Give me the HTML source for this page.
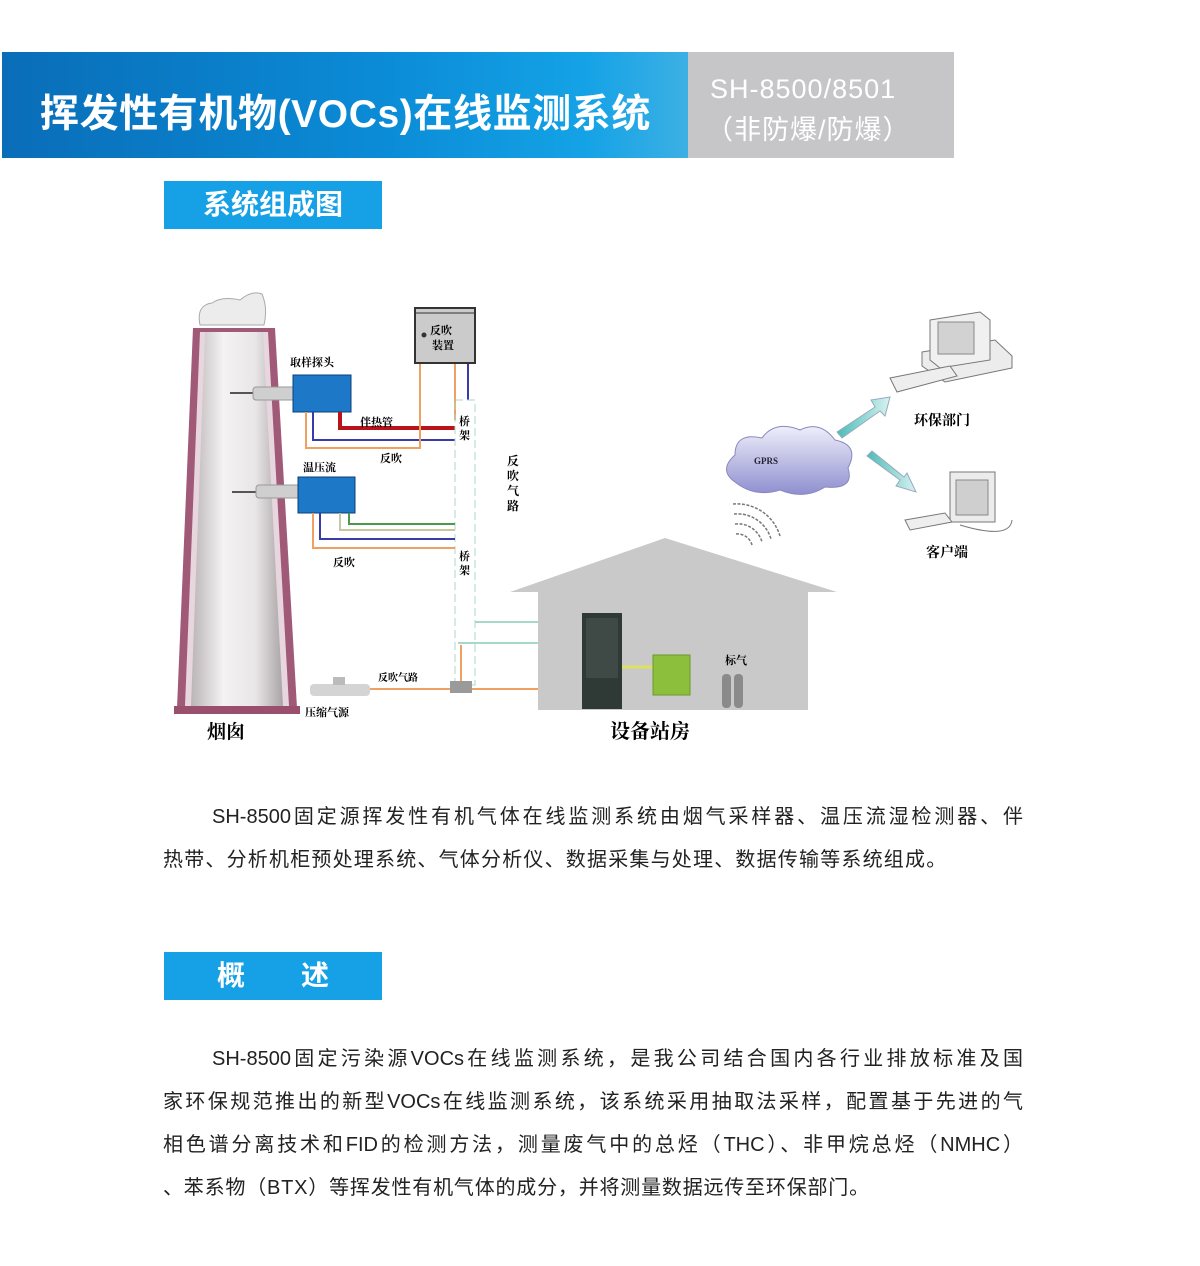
<!DOCTYPE html>
<html><head><meta charset="utf-8"><style>
*{margin:0;padding:0;box-sizing:border-box}
body{width:1200px;height:1266px;background:#fff;position:relative;overflow:hidden;font-family:"Liberation Sans","Noto Sans CJK SC",sans-serif;color:#222}
.abs{position:absolute}
.hdr{left:2px;top:52px;width:686px;height:106px;background:linear-gradient(90deg,#0a6db8 0%,#0b8bd6 55%,#14a2e6 85%,#3cb0e4 100%)}
.hdr2{left:688px;top:52px;width:266px;height:106px;background:#c6c6c8}
.title{left:40px;top:83px;font-size:39px;font-weight:bold;color:#fff;letter-spacing:0.6px;white-space:nowrap}
.sub{color:#fff;font-size:27px;white-space:nowrap;letter-spacing:1px}
.sec{left:164px;width:218px;height:48px;background:#16a0e6;color:#fff;font-weight:bold;font-size:28px;text-align:center;line-height:48px}
.ln{position:absolute;left:163px;width:860px;font-size:20px;white-space:nowrap;text-align:justify;text-align-last:justify;color:#222}
.ln.last{text-align-last:left}
</style></head><body>
<div class="abs hdr"></div>
<div class="abs hdr2"></div>
<div class="abs title">挥发性有机物(VOCs)在线监测系统</div>
<div class="abs sub" style="left:710px;top:74px">SH-8500/8501</div>
<div class="abs sub" style="left:706px;top:108px">（非防爆/防爆）</div>
<div class="abs sec" style="top:181px">系统组成图</div>
<div class="abs sec" style="top:952px">概　　述</div>

<svg class="abs" style="left:0;top:0" width="1200" height="800" viewBox="0 0 1200 800">
<defs>
<linearGradient id="ch" x1="0" x2="1"><stop offset="0" stop-color="#b9b4b6"/><stop offset=".35" stop-color="#f4f2f3"/><stop offset=".7" stop-color="#e9e6e7"/><stop offset="1" stop-color="#a9a4a6"/></linearGradient>
<linearGradient id="cl" x1="0" y1="0" x2="0" y2="1"><stop offset="0" stop-color="#eeeefa"/><stop offset="1" stop-color="#8f8fd0"/></linearGradient>
<linearGradient id="ar" x1="0" x2="1"><stop offset="0" stop-color="#4bbcb8"/><stop offset="1" stop-color="#d8f2f2"/></linearGradient>
</defs>
<path d="M200 325 Q196 305 212 303 Q222 296 240 300 Q252 290 262 294 Q268 308 264 325 Z" fill="#ececec" stroke="#aaa"/>
<polygon points="193,328 275,328 297,708 177,708" fill="#a05a78"/>
<polygon points="200,332 268,332 289,706 185,706" fill="#e8d6de"/>
<polygon points="205,332 263,332 283,706 191,706" fill="url(#ch)"/>
<rect x="174" y="706" width="126" height="8" fill="#9a4f6c"/>
<line x1="230" y1="393" x2="255" y2="393" stroke="#555" stroke-width="2"/>
<rect x="253" y="387" width="42" height="13" rx="3" fill="#cfcfcf" stroke="#999"/>
<rect x="293" y="375" width="58" height="37" fill="#1e78c8" stroke="#0b3f7a"/>
<text x="290" y="366" font-size="11" font-weight="bold" font-family="Liberation Serif,Noto Serif CJK SC,serif">取样探头</text>
<polyline points="340,412 340,428 455,428" fill="none" stroke="#b8141a" stroke-width="4"/>
<polyline points="313,412 313,440 455,440" fill="none" stroke="#3a3aa8" stroke-width="2"/>
<polyline points="306,412 306,448 420,448 420,362" fill="none" stroke="#f0a060" stroke-width="2"/>
<line x1="455" y1="362" x2="455" y2="420" stroke="#f0a060" stroke-width="2"/>
<line x1="468" y1="362" x2="468" y2="400" stroke="#3a3aa8" stroke-width="2"/>
<text x="360" y="426" font-size="11" font-weight="bold" font-family="Liberation Serif,Noto Serif CJK SC,serif">伴热管</text>
<text x="380" y="462" font-size="11" font-weight="bold" font-family="Liberation Serif,Noto Serif CJK SC,serif">反吹</text>
<rect x="415" y="308" width="60" height="55" fill="#cbcbcb" stroke="#333" stroke-width="2"/>
<line x1="415" y1="313" x2="475" y2="313" stroke="#333"/>
<circle cx="424" cy="335" r="2.5" fill="#333"/>
<text x="430" y="334" font-size="11" font-weight="bold" font-family="Liberation Serif,Noto Serif CJK SC,serif">反吹</text>
<text x="432" y="349" font-size="11" font-weight="bold" font-family="Liberation Serif,Noto Serif CJK SC,serif">装置</text>
<rect x="455" y="400" width="20" height="285" fill="none" stroke="#a8d8c8" stroke-dasharray="8,4"/>
<text font-size="11" font-weight="bold" font-family="Liberation Serif,Noto Serif CJK SC,serif"><tspan x="459" y="425">桥</tspan><tspan x="459" y="439">架</tspan><tspan x="459" y="560">桥</tspan><tspan x="459" y="574">架</tspan></text>
<text font-size="12" font-weight="bold" font-family="Liberation Serif,Noto Serif CJK SC,serif"><tspan x="507" y="465">反</tspan><tspan x="507" y="480">吹</tspan><tspan x="507" y="495">气</tspan><tspan x="507" y="510">路</tspan></text>
<line x1="232" y1="492" x2="258" y2="492" stroke="#555" stroke-width="2"/>
<rect x="256" y="485" width="44" height="13" rx="3" fill="#cfcfcf" stroke="#999"/>
<rect x="298" y="477" width="57" height="36" fill="#1e78c8" stroke="#0b3f7a"/>
<text x="303" y="471" font-size="11" font-weight="bold" font-family="Liberation Serif,Noto Serif CJK SC,serif">温压流</text>
<polyline points="349,513 349,524 455,524" fill="none" stroke="#4a9a4a" stroke-width="2"/>
<polyline points="340,513 340,530 455,530" fill="none" stroke="#c8c8a0" stroke-width="2"/>
<polyline points="320,513 320,539 455,539" fill="none" stroke="#3a3aa8" stroke-width="2"/>
<polyline points="313,513 313,548 455,548" fill="none" stroke="#f0a060" stroke-width="2"/>
<text x="333" y="566" font-size="11" font-weight="bold" font-family="Liberation Serif,Noto Serif CJK SC,serif">反吹</text>
<polygon points="665,538 837,592 808,592 808,710 538,710 538,592 510,592" fill="#c9c9c9"/>
<polyline points="475,622 538,622" fill="none" stroke="#a8d8c8" stroke-width="2"/>
<polyline points="458,643 538,643" fill="none" stroke="#a8d8c8" stroke-width="2"/>
<line x1="461" y1="645" x2="461" y2="682" stroke="#f0a060" stroke-width="2"/>
<rect x="450" y="681" width="22" height="12" fill="#9a9a9a"/>
<line x1="370" y1="689" x2="450" y2="689" stroke="#f0a060" stroke-width="2"/>
<line x1="472" y1="689" x2="538" y2="689" stroke="#f0a060" stroke-width="2"/>
<rect x="310" y="684" width="60" height="12" rx="4" fill="#d4d4d4"/>
<rect x="333" y="677" width="12" height="8" fill="#bbb"/>
<text x="378" y="681" font-size="10" font-weight="bold" font-family="Liberation Serif,Noto Serif CJK SC,serif">反吹气路</text>
<text x="305" y="716" font-size="11" font-weight="bold" font-family="Liberation Serif,Noto Serif CJK SC,serif">压缩气源</text>
<text x="207" y="738" font-size="19" font-weight="bold" font-family="Liberation Serif,Noto Serif CJK SC,serif">烟囱</text>
<rect x="582" y="613" width="40" height="96" fill="#2f3a36"/>
<rect x="586" y="618" width="32" height="60" fill="#3f4a46"/>
<line x1="622" y1="667" x2="653" y2="667" stroke="#e0e060" stroke-width="3"/>
<rect x="653" y="655" width="37" height="40" fill="#8cc03c" stroke="#6a9a2a"/>
<rect x="722" y="674" width="9" height="34" rx="4" fill="#8a8a8a"/>
<rect x="734" y="674" width="9" height="34" rx="4" fill="#8a8a8a"/>
<text x="725" y="664" font-size="11" font-weight="bold" font-family="Liberation Serif,Noto Serif CJK SC,serif">标气</text>
<text x="610" y="738" font-size="20" font-weight="bold" font-family="Liberation Serif,Noto Serif CJK SC,serif">设备站房</text>
<g fill="none" stroke="#777" stroke-width="1.5" stroke-dasharray="3,1.5">
<path d="M736 534 A15 15 0 0 1 752 545"/>
<path d="M735 524 A25 25 0 0 1 762 542"/>
<path d="M734 514 A35 35 0 0 1 771 539"/>
<path d="M733 504 A45 45 0 0 1 780 536"/>
</g>
<path d="M735 482 Q718 470 735 455 Q735 432 762 438 Q775 420 800 430 Q820 420 835 440 Q860 445 848 468 Q855 490 825 487 Q805 500 780 490 Q755 498 735 482 Z" fill="url(#cl)" stroke="#8888c0"/>
<text x="754" y="464" font-size="9" font-weight="bold" fill="#223" font-family="Liberation Serif,serif">GPRS</text>
<polygon points="837,432 875,407 871,400 890,397 885,416 880,411 842,438" fill="url(#ar)" stroke="#9ab"/>
<polygon points="867,456 900,480 896,486 916,492 907,473 904,477 872,451" fill="url(#ar)" stroke="#9ab"/>
<polygon points="922,352 995,340 1012,356 1012,368 945,382 922,366" fill="#ececec" stroke="#777"/>
<polygon points="930,320 980,312 990,320 990,360 940,368 930,360" fill="#f0f0f0" stroke="#777"/>
<rect x="938" y="322" width="36" height="32" fill="#d2d2d2" stroke="#888"/>
<polygon points="890,378 950,366 957,376 897,392" fill="#eee" stroke="#777"/>
<text x="914" y="425" font-size="14" font-weight="bold" font-family="Liberation Serif,Noto Serif CJK SC,serif">环保部门</text>
<rect x="950" y="472" width="45" height="50" fill="#ececec" stroke="#777"/>
<rect x="956" y="480" width="32" height="35" fill="#cfcfcf" stroke="#888"/>
<path d="M960 525 Q1010 540 1012 520" fill="none" stroke="#777"/>
<polygon points="905,520 945,513 952,522 910,530" fill="#eee" stroke="#777"/>
<text x="926" y="557" font-size="14" font-weight="bold" font-family="Liberation Serif,Noto Serif CJK SC,serif">客户端</text>
</svg>

<div class="ln" style="top:800px;left:212px;width:811px">SH-8500固定源挥发性有机气体在线监测系统由烟气采样器、温压流湿检测器、伴</div>
<div class="ln last" style="top:843px;letter-spacing:1.2px">热带、分析机柜预处理系统、气体分析仪、数据采集与处理、数据传输等系统组成。</div>

<div class="ln" style="top:1042px;left:212px;width:811px">SH-8500固定污染源VOCs在线监测系统，是我公司结合国内各行业排放标准及国</div>
<div class="ln" style="top:1085px">家环保规范推出的新型VOCs在线监测系统，该系统采用抽取法采样，配置基于先进的气</div>
<div class="ln" style="top:1128px">相色谱分离技术和FID的检测方法，测量废气中的总烃（THC）、非甲烷总烃（NMHC）</div>
<div class="ln last" style="top:1171px;letter-spacing:0.8px">、苯系物（BTX）等挥发性有机气体的成分，并将测量数据远传至环保部门。</div>
</body></html>
